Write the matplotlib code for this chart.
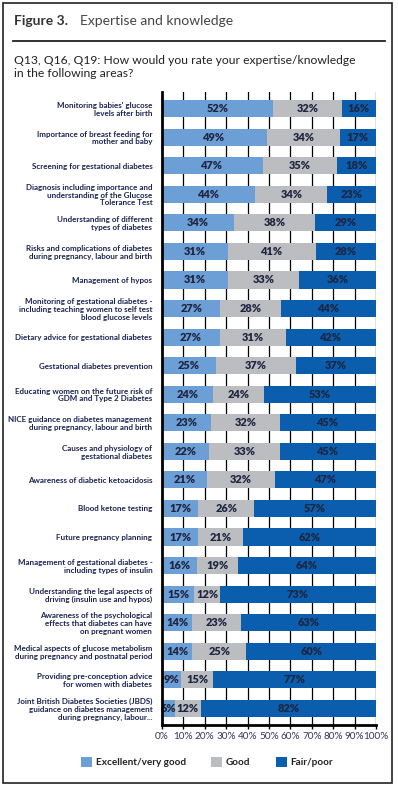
import matplotlib
matplotlib.use("Agg")
import matplotlib.pyplot as plt
from matplotlib.patches import Rectangle, Patch
from matplotlib.lines import Line2D

LIGHT = "#6d9fd7"
GREY = "#bcbdc0"
DARK = "#0b5ead"
INK = "#1d2540"
LABEL = "#1a2350"

areas = [
    "Monitoring babies' glucose\nlevels after birth",
    "Importance of breast feeding for\nmother and baby",
    "Screening for gestational diabetes",
    "Diagnosis including importance and\nunderstanding of the Glucose\nTolerance Test",
    "Understanding of different\ntypes of diabetes",
    "Risks and complications of diabetes\nduring pregnancy, labour and birth",
    "Management of hypos",
    "Monitoring of gestational diabetes -\nincluding teaching women to self test\nblood glucose levels",
    "Dietary advice for gestational diabetes",
    "Gestational diabetes prevention",
    "Educating women on the future risk of\nGDM and Type 2 Diabetes",
    "NICE guidance on diabetes management\nduring pregnancy, labour and birth",
    "Causes and physiology of\ngestational diabetes",
    "Awareness of diabetic ketoacidosis",
    "Blood ketone testing",
    "Future pregnancy planning",
    "Management of gestational diabetes -\nincluding types of insulin",
    "Understanding the legal aspects of\ndriving (insulin use and hypos)",
    "Awareness of the psychological\neffects that diabetes can have\non pregnant women",
    "Medical aspects of glucose metabolism\nduring pregnancy and postnatal period",
    "Providing pre-conception advice\nfor women with diabetes",
    "Joint British Diabetes Societies (JBDS)\nguidance on diabetes management\nduring pregnancy, labour...",
]
excellent = [52, 49, 47, 44, 34, 31, 31, 27, 27, 25, 24, 23, 22, 21, 17, 17, 16, 15, 14, 14, 9, 6]
good = [32, 34, 35, 34, 38, 41, 33, 28, 31, 37, 24, 32, 33, 32, 26, 21, 19, 12, 23, 25, 15, 12]
fair = [16, 17, 18, 23, 29, 28, 36, 44, 42, 37, 53, 45, 45, 47, 57, 62, 64, 73, 63, 60, 77, 82]
series = ["Excellent/very good", "Good", "Fair/poor"]
ticks = [0, 10, 20, 30, 40, 50, 60, 70, 80, 90, 100]

plt.rcParams["font.family"] = ["Lato", "DejaVu Sans"]

fig = plt.figure(figsize=(3.98, 7.89), dpi=100)
W, H = 398, 789

# frame and header
fig.add_artist(Rectangle((3 / W, 1 - 783 / H), 389 / W, 780 / H, transform=fig.transFigure,
                         fill=False, edgecolor="#222222", lw=1.2))
fig.add_artist(Line2D([13 / W, 385 / W], [1 - 41 / H] * 2, transform=fig.transFigure,
                      color="#222222", lw=1.3))
fig.text(14 / W, 1 - 21 / H, "Figure 3.", fontsize=10, fontweight="bold", color="#333333",
         va="center", ha="left")
fig.text(80 / W, 1 - 21 / H, "Expertise and knowledge", fontsize=10, color="#444444",
         va="center", ha="left")
fig.text(14 / W, 1 - 67 / H, "Q13, Q16, Q19: How would you rate your expertise/knowledge\nin the following areas?",
         fontsize=8.7, color="#222222", va="center", ha="left", linespacing=1.15)

ax = fig.add_axes([162 / W, 1 - 725 / H, 214 / W, 633 / H])
n = len(areas)
ys = list(range(n))
for i in range(n):
    tot = excellent[i] + good[i] + fair[i]
    segs = [excellent[i] * 100 / tot, good[i] * 100 / tot, fair[i] * 100 / tot]
    raw = [excellent[i], good[i], fair[i]]
    left = 0
    for seg, val, col in zip(segs, raw, [LIGHT, GREY, DARK]):
        ax.barh(i, seg, left=left, height=0.6, color=col, zorder=3)
        ax.text(left + seg / 2, i, f"{val}%", ha="center", va="center", fontsize=7.9,
                fontweight="heavy", color=INK, zorder=4)
        left += seg

ax.set_xlim(0, 100)
ax.set_ylim(n - 0.42, -0.58)
ax.set_yticks(ys)
ax.set_yticklabels(areas, fontsize=5.8, fontweight="bold", color=LABEL, linespacing=1.12)
ax.tick_params(axis="y", length=0, pad=7)
ax.set_xticks(ticks)
ax.set_xticklabels([f"{t}%" for t in ticks], fontsize=7.2, color="#3b3460")
ax.tick_params(axis="x", length=3, width=1, color="black", pad=2)
for t in ticks[1:]:
    ax.axvline(t, color="black", lw=0.9, zorder=1)
for s in ["top", "right"]:
    ax.spines[s].set_visible(False)
ax.spines["left"].set_linewidth(2)
ax.spines["bottom"].set_linewidth(2)
ax.spines["left"].set_zorder(5)
ax.spines["bottom"].set_zorder(5)

handles = [Patch(facecolor=c, edgecolor="none", label=l) for c, l in zip([LIGHT, GREY, DARK], series)]
fig.legend(handles=handles, loc="center", bbox_to_anchor=(207 / W, 1 - 762 / H), ncol=3,
           frameon=False, prop={"size": 7.2, "weight": "bold"}, handlelength=1.1,
           handleheight=1.1, handletextpad=0.4, columnspacing=2.5, labelcolor="#222222")

fig.savefig("out.png", dpi=100)
